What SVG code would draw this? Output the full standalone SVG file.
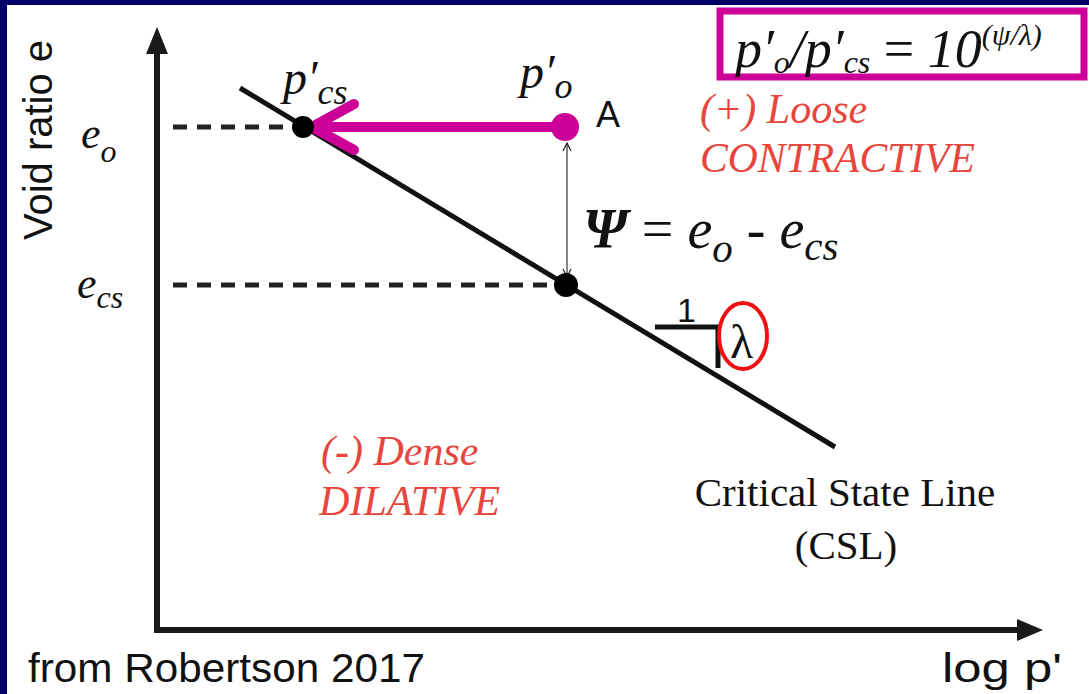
<svg xmlns="http://www.w3.org/2000/svg" width="1089" height="694" viewBox="0 0 1089 694">
<style>
.tm{font-family:"Liberation Serif",serif;fill:#111}
.it{font-style:italic}
.red{font-family:"Liberation Serif",serif;font-style:italic;fill:#E8453C;font-size:42px}
.ar{font-family:"Liberation Sans",Arial,sans-serif;fill:#111}
.ax{stroke:#1a1a1a;stroke-width:6;fill:none}
.dash{stroke:#222;stroke-width:5;stroke-dasharray:14 10;fill:none}
</style>
<defs>
<marker id="thin" viewBox="0 0 10 10" refX="9" refY="5" markerWidth="10" markerHeight="10" markerUnits="userSpaceOnUse" orient="auto-start-reverse">
<path d="M1,1 L9,5 L1,9" fill="none" stroke="#222" stroke-width="1.2"/>
</marker>
<clipPath id="boxclip"><rect x="720" y="11" width="364" height="66"/></clipPath>
</defs>
<rect x="0" y="0" width="1089" height="694" fill="#000066"/>
<rect x="7" y="5" width="1082" height="689" fill="#ffffff"/>
<g id="axes">
<line class="ax" x1="157" y1="50" x2="157" y2="632"/>
<polygon points="157,27 146,54 168,54" fill="#1a1a1a"/>
<line class="ax" x1="154" y1="630" x2="1020" y2="630"/>
<polygon points="1043,630 1017,619 1017,641" fill="#1a1a1a"/>
</g>
<g id="connectors">
<line class="dash" x1="173" y1="127" x2="295" y2="127"/>
<line class="dash" x1="173" y1="285" x2="558" y2="285"/>
<line x1="240" y1="88" x2="835" y2="447" stroke="#111" stroke-width="5"/>
<line x1="567" y1="143" x2="567" y2="277" stroke="#333" stroke-width="1.2" marker-end="url(#thin)" marker-start="url(#thin)"/>
<line x1="560" y1="127" x2="316" y2="127" stroke="#CC0099" stroke-width="10" stroke-linecap="round"/>
<polyline points="354,104 312,127 354,150" fill="none" stroke="#CC0099" stroke-width="10" stroke-linecap="round" stroke-linejoin="round"/>
<polyline points="655,327 718,327 718,368" fill="none" stroke="#111" stroke-width="5"/>
</g>
<g id="pcs">
<circle cx="303" cy="127" r="11" fill="#000"/>
<text class="tm it" x="283" y="94" font-size="48">p′<tspan font-size="36" dy="10">cs</tspan></text>
</g>
<g id="pointA">
<circle cx="565" cy="127" r="14" fill="#CC0099"/>
<text class="tm it" x="520" y="88" font-size="48">p′<tspan font-size="36" dy="10">o</tspan></text>
<text class="ar" x="596" y="127" font-size="36">A</text>
</g>
<g id="ecs-point">
<circle cx="566" cy="285" r="12" fill="#000"/>
</g>
<g id="ylabels">
<text class="ar" transform="translate(52,140) rotate(-90)" text-anchor="middle" font-size="40" fill="#2a2a2a">Void ratio e</text>
<text class="tm it" x="81" y="148" font-size="44">e<tspan font-size="32" dy="14">o</tspan></text>
<text class="tm it" x="77" y="298" font-size="44">e<tspan font-size="32" dy="10">cs</tspan></text>
</g>
<g id="psi">
<text class="tm it" x="583" y="248" font-size="56"><tspan font-weight="bold">Ψ</tspan><tspan font-style="normal"> = </tspan>e<tspan font-size="41" dy="14">o</tspan><tspan dy="-14" font-style="normal"> - </tspan>e<tspan font-size="41" dy="12">cs</tspan></text>
</g>
<g id="slope">
<text class="ar" x="677" y="322" font-size="34">1</text>
<text class="tm" x="730" y="358" font-size="48" fill="#1a2a55">λ</text>
<ellipse cx="743" cy="336" rx="24" ry="33" fill="none" stroke="#EE1111" stroke-width="4"/>
</g>
<g id="loose">
<text class="red" x="700" y="123">(+) Loose</text>
<text class="red" x="700" y="172" textLength="275" lengthAdjust="spacingAndGlyphs">CONTRACTIVE</text>
</g>
<g id="dense">
<text class="red" x="321" y="465">(-) Dense</text>
<text class="red" x="319" y="515" textLength="181" lengthAdjust="spacingAndGlyphs">DILATIVE</text>
</g>
<g id="csl">
<text class="tm" x="845" y="506" font-size="41" text-anchor="middle">Critical State Line</text>
<text class="tm" x="846" y="559" font-size="41" text-anchor="middle">(CSL)</text>
</g>
<g id="formula">
<rect x="720" y="11" width="364" height="66" fill="none" stroke="#CC0099" stroke-width="7"/>
<g clip-path="url(#boxclip)">
<text class="tm it" x="735" y="67" font-size="54">p′<tspan font-size="32" dy="6">o</tspan><tspan dy="-6">/p′</tspan><tspan font-size="32" dy="6">cs</tspan><tspan dy="-6" font-style="normal"> = </tspan>10<tspan font-size="30" dy="-22">(ψ/λ)</tspan></text>
</g>
</g>
<g id="footer">
<text class="ar" x="28" y="682" font-size="41" textLength="397" lengthAdjust="spacingAndGlyphs">from Robertson 2017</text>
<text class="ar" x="942" y="682" font-size="41" textLength="120" lengthAdjust="spacingAndGlyphs">log p'</text>
</g>
</svg>
